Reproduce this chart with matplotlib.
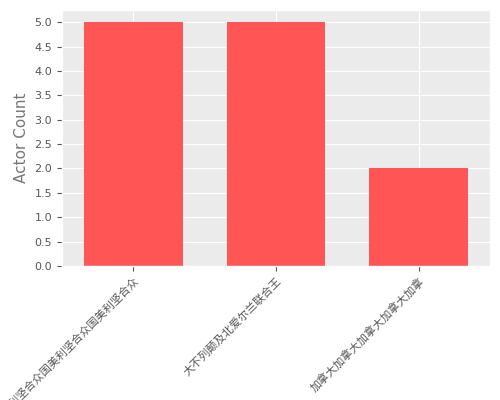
import matplotlib
matplotlib.use("Agg")
import matplotlib.pyplot as plt

nationalities = ["美利坚合众国美利坚合众国美利坚合众", "大不列颠及北爱尔兰联合王", "加拿大加拿大加拿大加拿大加拿"]
counts = [5, 5, 2]

plt.style.use("ggplot")
plt.rcParams["font.family"] = ["DejaVu Sans", "Noto Sans CJK SC"]
fig, ax = plt.subplots(figsize=(5, 4), dpi=100)
fig.subplots_adjust(left=0.124, right=0.98, top=0.975, bottom=0.335)
ax.set_facecolor("#EBEBEB")
ax.bar(range(len(nationalities)), counts, width=0.69, color="#FF5555")
ax.set_xticks(range(len(nationalities)))
ax.set_xticklabels(nationalities, rotation=45, ha="right", rotation_mode="anchor", fontsize=7)
ax.set_yticks([i * 0.5 for i in range(11)])
ax.tick_params(axis="both", labelsize=8, colors="#555555")
ax.set_xlim(-0.5, 2.5)
ax.set_ylim(0, 5.25)
ax.set_xlabel("Nationalities", fontsize=11, color="#777777", labelpad=10)
ax.set_ylabel("Actor Count", fontsize=11, color="#777777")
fig.savefig("out.png")
